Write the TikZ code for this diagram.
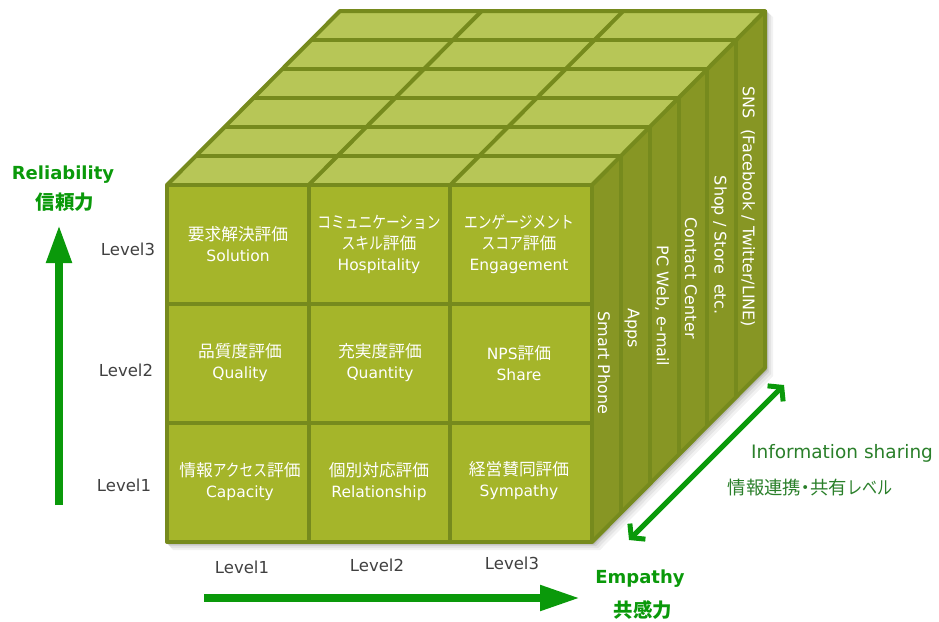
\documentclass[tikz,border=0pt]{standalone}
\usepackage{fontspec}
\setmainfont{DejaVu Sans}
\newfontfamily\jpf[Scale=1.08,RawFeature=+palt]{Noto Sans CJK JP}
\newfontfamily\jpk[Scale=1.08,FakeStretch=0.82]{Noto Sans CJK JP}
\usetikzlibrary{calc,arrows.meta}
\newcommand\J[1]{{\jpf #1}}
\newcommand\K[1]{{\jpk #1}}
\definecolor{frontc}{HTML}{A5B52A}
\definecolor{topc}{HTML}{B7C657}
\definecolor{sidec}{HTML}{879624}
\definecolor{edgec}{HTML}{768A1D}
\definecolor{arrowg}{HTML}{0A990A}
\definecolor{infog}{HTML}{2A7F2A}
\definecolor{levelc}{HTML}{404040}
\tikzset{
  edge/.style={draw=edgec,line width=4pt},
  celltext/.style={text=white,align=center,font=\fontsize{15.5}{21}\selectfont},
  sidetext/.style={text=white,rotate=-90,font=\fontsize{16}{20}\selectfont},
  lvl/.style={text=levelc,font=\fontsize{16.5}{20}\selectfont},
  axistitle/.style={text=arrowg,align=center,font=\bfseries\fontsize{18}{22}\selectfont},
  bigarrow/.style={draw=arrowg,line width=8pt},
}
\begin{document}
\begin{tikzpicture}[x=1pt,y=-1pt,line join=round]
\useasboundingbox (0,0) rectangle (939,621);
% cube corners
\coordinate (A) at (167,185);
\coordinate (B) at (592,185);
\coordinate (C) at (592,542);
\coordinate (D) at (167,542);
\coordinate (Ab) at ($(A)+(173,-174)$);
\coordinate (Bb) at ($(B)+(173,-174)$);
\coordinate (Cb) at ($(C)+(173,-174)$);
% shadow
\foreach \o/\op in {8/0.05,6/0.06,4/0.08,2.5/0.1}{
  \fill[black,opacity=\op] ($(D)+(\o-2,\o)$) -- ($(C)+(\o,\o)$) -- ($(Cb)+(\o,\o)$) -- ($(Bb)+(\o,\o-2)$) -- (Bb) -- (C) -- (D) -- cycle;
}
% top face
\fill[topc] (A) -- (B) -- (Bb) -- (Ab) -- cycle;
\foreach \i in {1,...,5}{
  \draw[edge] ($(A)+(\i*28.833,-\i*29)$) -- ($(B)+(\i*28.833,-\i*29)$);
}
\foreach \j in {1,2}{
  \draw[edge] ($(A)+(\j*141.667,0)$) -- ($(Ab)+(\j*141.667,0)$);
}
% side face
\fill[sidec] (B) -- (C) -- (Cb) -- (Bb) -- cycle;
\foreach \i in {1,...,5}{
  \draw[edge] ($(B)+(\i*28.833,-\i*29)$) -- ($(C)+(\i*28.833,-\i*29)$);
}
% front face
\fill[frontc] (A) -- (B) -- (C) -- (D) -- cycle;
\foreach \j in {1,2}{
  \draw[edge] ($(A)+(\j*141.667,0)$) -- ($(D)+(\j*141.667,0)$);
  \draw[edge] ($(A)+(0,\j*119)$) -- ($(B)+(0,\j*119)$);
}
% outlines
\draw[edge] (A) -- (B) -- (C) -- (D) -- cycle;
\draw[edge] (A) -- (Ab) -- (Bb) -- (B);
\draw[edge] (Bb) -- (Cb) -- (C);
% front cell texts
\node[celltext] (c13) at (238,244) {\J{要求解決評価}\\Solution};
\node[celltext] (c23) at (379,244) {\K{コミュニケーション}\\\K{スキル}\J{評価}\\Hospitality};
\node[celltext] (c33) at (519,244) {\K{エンゲージメント}\\\K{スコア}\J{評価}\\Engagement};
\node[celltext] (c12) at (240,363) {\J{品質度評価}\\Quality};
\node[celltext] (c22) at (380,363) {\J{充実度評価}\\Quantity};
\node[celltext] (c32) at (519,363) {NPS\J{評価}\\Share};
\node[celltext] (c11) at (240,482) {\J{情報}\K{アクセス}\J{評価}\\Capacity};
\node[celltext] (c21) at (379,482) {\J{個別対応評価}\\Relationship};
\node[celltext] (c31) at (519,481) {\J{経営賛同評価}\\Sympathy};
% side texts
\node[sidetext] (s1) at (604,363) {Smart Phone};
\node[sidetext] (s2) at (632,328) {Apps};
\node[sidetext] (s3) at (662,306) {PC Web, e-mail};
\node[sidetext] (s4) at (691,278) {Contact Center};
\node[sidetext] (s5) at (719,245) {Shop / Store\ \ etc.};
\node[sidetext] (s6) at (748,207) {SNS\ \ (Facebook / Twitter/LINE)};
% level labels
\node[lvl] (l3) at (128,249) {Level3};
\node[lvl] (l2) at (126,370) {Level2};
\node[lvl] (l1) at (124,485) {Level1};
\node[lvl] (b1) at (242,567) {Level1};
\node[lvl] (b2) at (377,565) {Level2};
\node[lvl] (b3) at (512,563) {Level3};
% axis titles
\node[axistitle] (rel) at (63,175) {Reliability};
\node[axistitle] (relj) at (65,202) {\J{信頼力}};
\node[axistitle] (emp) at (640,579) {Empathy};
\node[axistitle] (empj) at (643,610) {\J{共感力}};
\node[text=infog,font=\fontsize{18.5}{22}\selectfont] (inf) at (842,453) {Information\ sharing};
\node[text=infog,font=\fontsize{17}{20}\selectfont] (infj) at (810,488) {\J{情報連携・共有}\K{レベル}};
% arrows
\coordinate (va) at (59,505);
\coordinate (vb) at (59,225);
\coordinate (ha) at (204,598);
\coordinate (hb) at (580,598);
\coordinate (da) at (629,540);
\coordinate (db) at (784,385);
\draw[bigarrow,-{Triangle[length=38pt,width=24pt]}] (va) -- (vb);
\draw[bigarrow,-{Triangle[length=40pt,width=24pt]}] (ha) -- (hb);
\draw[draw=arrowg,line width=5pt,line cap=round,{Straight Barb[length=9pt,width=22pt]}-{Straight Barb[length=9pt,width=22pt]}] (da) -- (db);
\end{tikzpicture}
\end{document}
